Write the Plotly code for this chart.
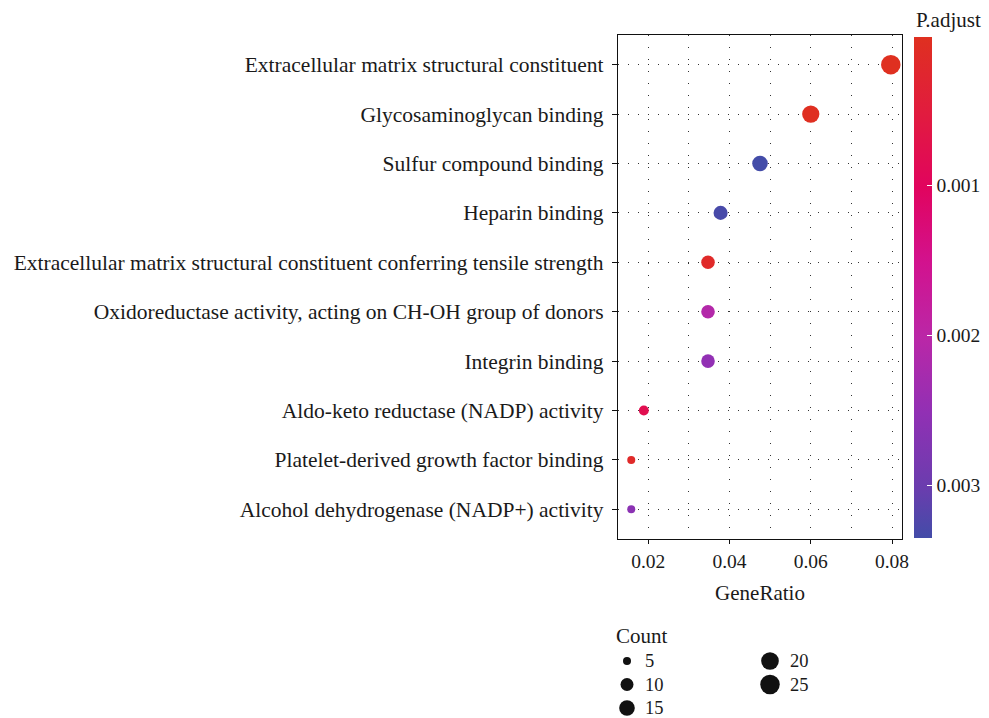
import plotly.graph_objects as go

# ---------------- data ----------------
terms = [
    "Extracellular matrix structural constituent",
    "Glycosaminoglycan binding",
    "Sulfur compound binding",
    "Heparin binding",
    "Extracellular matrix structural constituent conferring tensile strength",
    "Oxidoreductase activity, acting on CH-OH group of donors",
    "Integrin binding",
    "Aldo-keto reductase (NADP) activity",
    "Platelet-derived growth factor binding",
    "Alcohol dehydrogenase (NADP+) activity",
]
gene_ratio = [0.0797, 0.0600, 0.0475, 0.0378, 0.0347, 0.0347, 0.0347, 0.0189, 0.0158, 0.0158]
counts = [25, 19, 15, 12, 11, 11, 11, 6, 5, 5]
p_adjust = [0.0000134, 0.00003, 0.003353, 0.00331, 0.00017, 0.0021, 0.0025, 0.0008, 0.00017, 0.0026]

count_breaks = [5, 10, 15, 20, 25]
cbar_ticks = [0.001, 0.002, 0.003]
cbar_ticktext = ["0.001", "0.002", "0.003"]

# ---------------- styling ----------------
FONT = "Liberation Serif"
TXT = "#1a1a1a"
W, H = 989, 718
PX_L, PX_R, PX_T, PX_B = 618, 902, 35, 539
CB_TOP, CB_BOT, CB_L, CB_T = 37, 538, 914, 18

cmin_c, cmax_c = min(counts), max(counts)
D_MIN, D_MAX = 8.0, 19.5


def dot_size(c):
    f = (c - cmin_c) / (cmax_c - cmin_c)
    return D_MIN + (D_MAX - D_MIN) * f ** 0.6


colorscale = [
    [0.0, "#434CA8"], [0.1, "#6A3DAE"], [0.25, "#9130B4"], [0.4, "#BA27A7"],
    [0.55, "#D2128E"], [0.7, "#E1045E"], [0.85, "#E11C3E"], [1.0, "#DF3020"],
]

neg_p = [-p for p in p_adjust]
pmin, pmax = min(p_adjust), max(p_adjust)

fig = go.Figure()

fig.add_trace(go.Scatter(
    x=gene_ratio, y=terms, mode="markers",
    marker=dict(
        size=[dot_size(c) for c in counts], sizemode="diameter",
        color=neg_p, colorscale=colorscale, cmin=-pmax, cmax=-pmin,
        line=dict(width=0), opacity=1,
        showscale=True,
        colorbar=dict(
            tickvals=[-t for t in cbar_ticks], ticktext=cbar_ticktext,
            ticks="inside", ticklen=5, tickcolor="white", tickwidth=1,
            tickfont=dict(family=FONT, size=19.5, color=TXT),
            thickness=CB_T, thicknessmode="pixels",
            len=(CB_BOT - CB_TOP) / H, lenmode="fraction",
            x=CB_L / W, xanchor="left", xpad=0, ypad=0,
            y=1 - (CB_BOT + CB_TOP) / 2 / H, yanchor="middle",
            outlinewidth=0, ticklabelposition="outside",
        ),
    ),
    cliponaxis=False, showlegend=False, hoverinfo="x+y",
))

# size legend on its own hidden axes
leg_x = [i // 3 for i in range(len(count_breaks))]
leg_y = [i % 3 for i in range(len(count_breaks))]
fig.add_trace(go.Scatter(
    x=leg_x, y=leg_y, mode="markers", xaxis="x2", yaxis="y2",
    marker=dict(size=[dot_size(c) for c in count_breaks], sizemode="diameter",
                color="#111111", line=dict(width=0), opacity=1),
    cliponaxis=False, showlegend=False, hoverinfo="skip",
))
annotations = []
for cx, cy, c in zip(leg_x, leg_y, count_breaks):
    annotations.append(dict(
        x=cx, y=cy, xref="x2", yref="y2", text=str(c), showarrow=False,
        xanchor="left", yanchor="middle", xshift=16 if cx == 0 else 18,
        font=dict(family=FONT, size=18.5, color=TXT),
    ))
annotations.append(dict(
    x=614 / W, y=1 - 636 / H, xref="paper", yref="paper", text="Count", showarrow=False,
    xanchor="left", yanchor="middle", font=dict(family=FONT, size=21, color=TXT),
))
annotations.append(dict(
    x=914 / W, y=1 - 20 / H, xref="paper", yref="paper", text="P.adjust", showarrow=False,
    xanchor="left", yanchor="middle", font=dict(family=FONT, size=21, color=TXT),
))

# white tick dashes on the left edge of the colour bar (ggplot draws them on both sides)
shapes = []
for t in cbar_ticks:
    yf = 1 - (CB_TOP + (t - pmin) / (pmax - pmin) * (CB_BOT - CB_TOP)) / H
    shapes.append(dict(type="line", xref="paper", yref="paper",
                       x0=CB_L / W, x1=(CB_L + 5) / W, y0=yf, y1=yf,
                       line=dict(color="white", width=1)))

fig.update_layout(
    width=W, height=H,
    margin=dict(l=0, r=0, t=0, b=0, autoexpand=False),
    paper_bgcolor="white", plot_bgcolor="white",
    font=dict(family=FONT, size=19, color=TXT),
    xaxis=dict(
        domain=[PX_L / W, PX_R / W],
        range=[0.01254, 0.08246],
        tickvals=[0.02, 0.04, 0.06, 0.08], ticktext=["0.02", "0.04", "0.06", "0.08"],
        ticks="outside", ticklen=4, tickcolor="#111111", tickwidth=1,
        tickfont=dict(family=FONT, size=19.5, color=TXT),
        showline=True, linecolor="#111111", linewidth=1.3, mirror=True,
        showgrid=True, gridcolor="#333333", gridwidth=1, griddash="1px,11px",
        minor=dict(tickvals=[0.03, 0.05, 0.07], showgrid=True, gridcolor="#333333",
                   gridwidth=1, griddash="1px,11px", ticks=""),
        zeroline=False,
        title=dict(text="GeneRatio", font=dict(family=FONT, size=21, color=TXT), standoff=14),
        automargin=False,
    ),
    yaxis=dict(
        domain=[1 - PX_B / H, 1 - PX_T / H],
        type="category", categoryorder="array", categoryarray=terms,
        range=[len(terms) - 1 + 0.6, -0.6],
        ticks="outside", ticklen=5, tickcolor="#111111", tickwidth=1,
        tickfont=dict(family=FONT, size=21.5, color=TXT),
        showline=True, linecolor="#111111", linewidth=1.3, mirror=True,
        showgrid=True, gridcolor="#333333", gridwidth=1, griddash="1px,9px",
        zeroline=False, automargin=False, ticklabelstandoff=4,
    ),
    xaxis2=dict(domain=[627 / W, 770 / W], range=[0, 1], visible=False, anchor="y2", fixedrange=True),
    yaxis2=dict(domain=[1 - 708 / H, 1 - 661 / H], range=[2, 0], visible=False, anchor="x2", fixedrange=True),
    annotations=annotations,
    shapes=shapes,
)

fig.write_html("out.html")
